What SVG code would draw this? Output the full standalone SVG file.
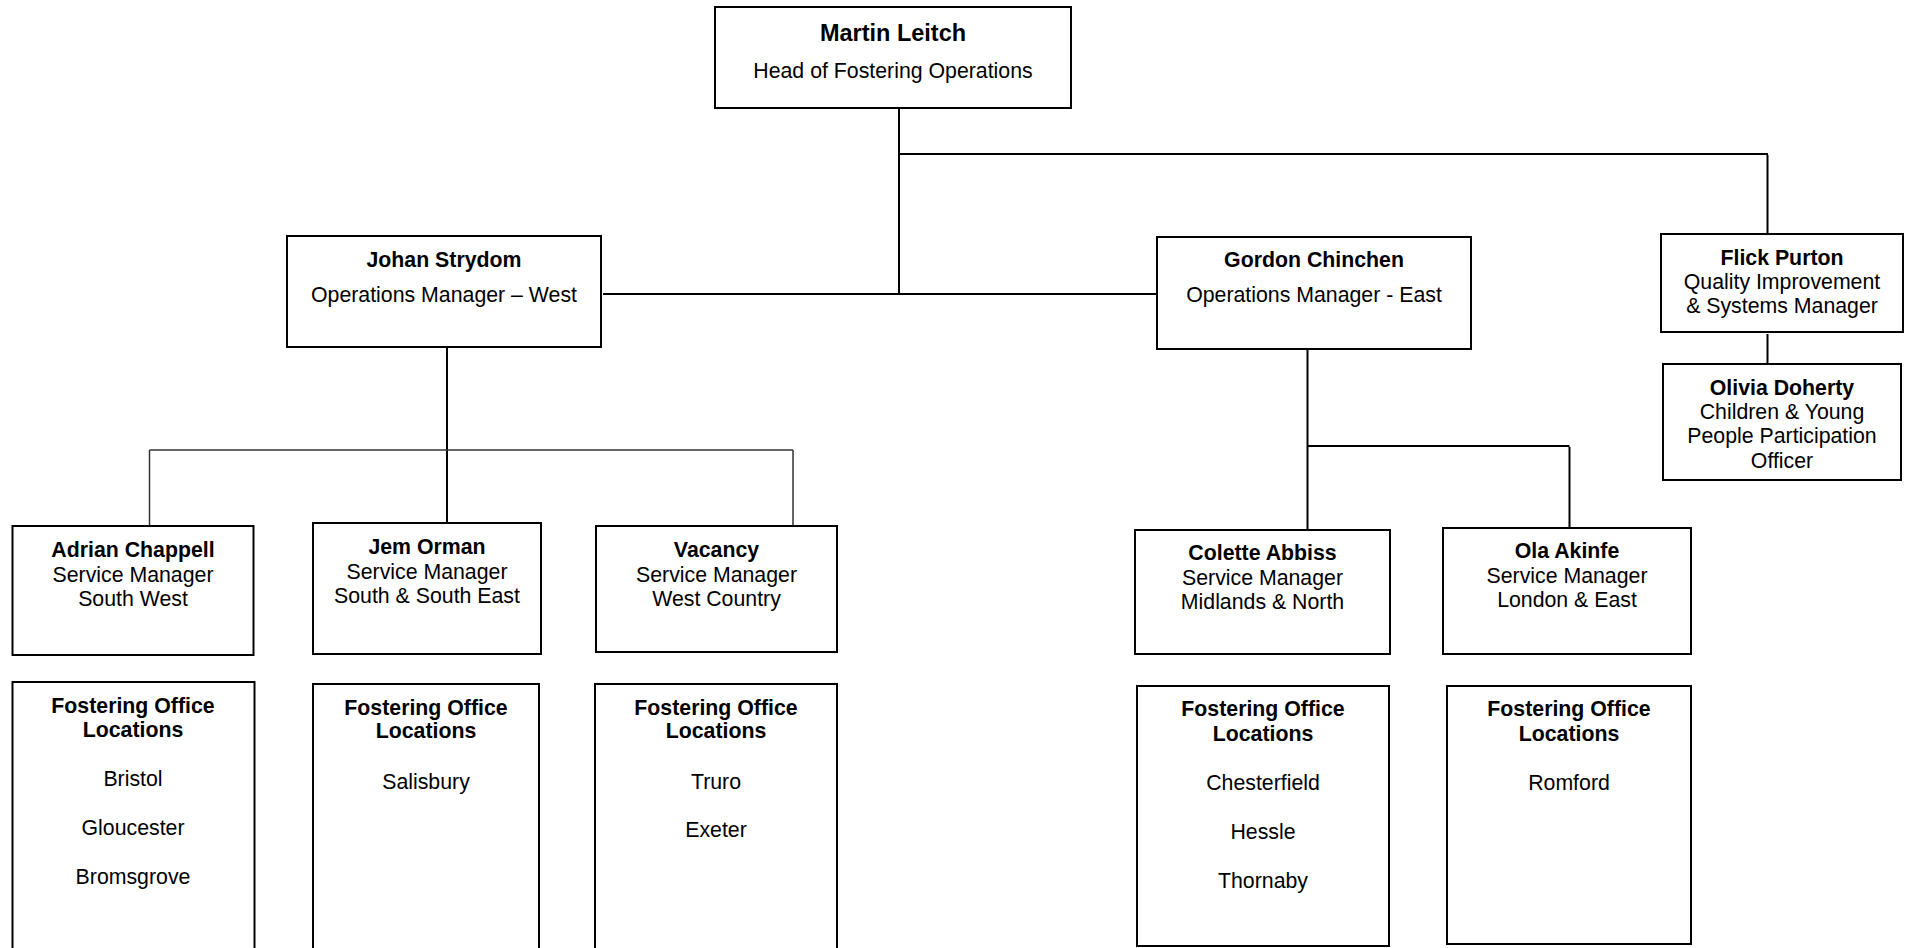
<svg xmlns="http://www.w3.org/2000/svg" width="1907" height="948" viewBox="0 0 1907 948">
<style>
.box{fill:#fff;stroke:#000;stroke-width:2}
.ln{fill:none;stroke:#000;stroke-width:2}
.ln2{fill:none;stroke:#333;stroke-width:1.5}
text{font-family:"Liberation Sans",Arial,sans-serif;font-size:21.3px;fill:#000;text-anchor:middle}
.b{font-weight:bold}
.big{font-size:23.5px;font-weight:bold}
</style>
<rect width="1907" height="948" fill="#fff"/>
<g id="connectors">
<path class="ln" d="M899 108V294"/>
<path class="ln" d="M900 154H1768"/>
<path class="ln" d="M1767.5 155V234"/>
<path class="ln" d="M603 294H1157"/>
<path class="ln" d="M447 347V523"/>
<path class="ln2" d="M149.5 450H793"/>
<path class="ln2" d="M149.5 450V526"/>
<path class="ln2" d="M793 450V526"/>
<path class="ln" d="M1307.5 349V530"/>
<path class="ln" d="M1307.5 446H1569.5"/>
<path class="ln" d="M1569.5 447V528"/>
<path class="ln" d="M1767.5 334V364"/>
</g>
<g id="martin">
<rect class="box" x="715" y="7" width="356" height="101"/>
<text class="big" x="893" y="41">Martin Leitch</text>
<text x="893" y="78">Head of Fostering Operations</text>
</g>
<g id="johan">
<rect class="box" x="287" y="236" width="314" height="111"/>
<text class="b" x="444" y="267">Johan Strydom</text>
<text x="444" y="302">Operations Manager – West</text>
</g>
<g id="gordon">
<rect class="box" x="1157" y="237" width="314" height="112"/>
<text class="b" x="1314" y="267">Gordon Chinchen</text>
<text x="1314" y="302">Operations Manager - East</text>
</g>
<g id="flick">
<rect class="box" x="1661" y="234" width="242" height="98"/>
<text class="b" x="1782" y="265">Flick Purton</text>
<text x="1782" y="289">Quality Improvement</text>
<text x="1782" y="313">&amp; Systems Manager</text>
</g>
<g id="olivia">
<rect class="box" x="1663" y="364" width="238" height="116"/>
<text class="b" x="1782" y="395">Olivia Doherty</text>
<text x="1782" y="419">Children &amp; Young</text>
<text x="1782" y="443">People Participation</text>
<text x="1782" y="468">Officer</text>
</g>
<g id="adrian">
<rect class="box" x="12.5" y="526" width="241" height="129"/>
<text class="b" x="133" y="557">Adrian Chappell</text>
<text x="133" y="582">Service Manager</text>
<text x="133" y="606">South West</text>
</g>
<g id="jem">
<rect class="box" x="313" y="523" width="228" height="131"/>
<text class="b" x="427" y="554">Jem Orman</text>
<text x="427" y="579">Service Manager</text>
<text x="427" y="603">South &amp; South East</text>
</g>
<g id="vacancy">
<rect class="box" x="596" y="526" width="241" height="126"/>
<text class="b" x="716.5" y="557">Vacancy</text>
<text x="716.5" y="582">Service Manager</text>
<text x="716.5" y="606">West Country</text>
</g>
<g id="colette">
<rect class="box" x="1135" y="530" width="255" height="124"/>
<text class="b" x="1262.5" y="560">Colette Abbiss</text>
<text x="1262.5" y="585">Service Manager</text>
<text x="1262.5" y="609">Midlands &amp; North</text>
</g>
<g id="ola">
<rect class="box" x="1443" y="528" width="248" height="126"/>
<text class="b" x="1567" y="558">Ola Akinfe</text>
<text x="1567" y="583">Service Manager</text>
<text x="1567" y="607">London &amp; East</text>
</g>
<g id="fol-southwest">
<rect class="box" x="12.5" y="682" width="242" height="280"/>
<text class="b" x="133" y="713">Fostering Office</text>
<text class="b" x="133" y="737">Locations</text>
<text x="133" y="786">Bristol</text>
<text x="133" y="835">Gloucester</text>
<text x="133" y="884">Bromsgrove</text>
</g>
<g id="fol-south">
<rect class="box" x="313" y="684" width="226" height="280"/>
<text class="b" x="426" y="715">Fostering Office</text>
<text class="b" x="426" y="738">Locations</text>
<text x="426" y="789">Salisbury</text>
</g>
<g id="fol-westcountry">
<rect class="box" x="595" y="684" width="242" height="280"/>
<text class="b" x="716" y="715">Fostering Office</text>
<text class="b" x="716" y="738">Locations</text>
<text x="716" y="789">Truro</text>
<text x="716" y="837">Exeter</text>
</g>
<g id="fol-midlands">
<rect class="box" x="1137" y="686" width="252" height="260"/>
<text class="b" x="1263" y="716">Fostering Office</text>
<text class="b" x="1263" y="741">Locations</text>
<text x="1263" y="790">Chesterfield</text>
<text x="1263" y="839">Hessle</text>
<text x="1263" y="888">Thornaby</text>
</g>
<g id="fol-london">
<rect class="box" x="1447" y="686" width="244" height="258"/>
<text class="b" x="1569" y="716">Fostering Office</text>
<text class="b" x="1569" y="741">Locations</text>
<text x="1569" y="790">Romford</text>
</g>
</svg>
